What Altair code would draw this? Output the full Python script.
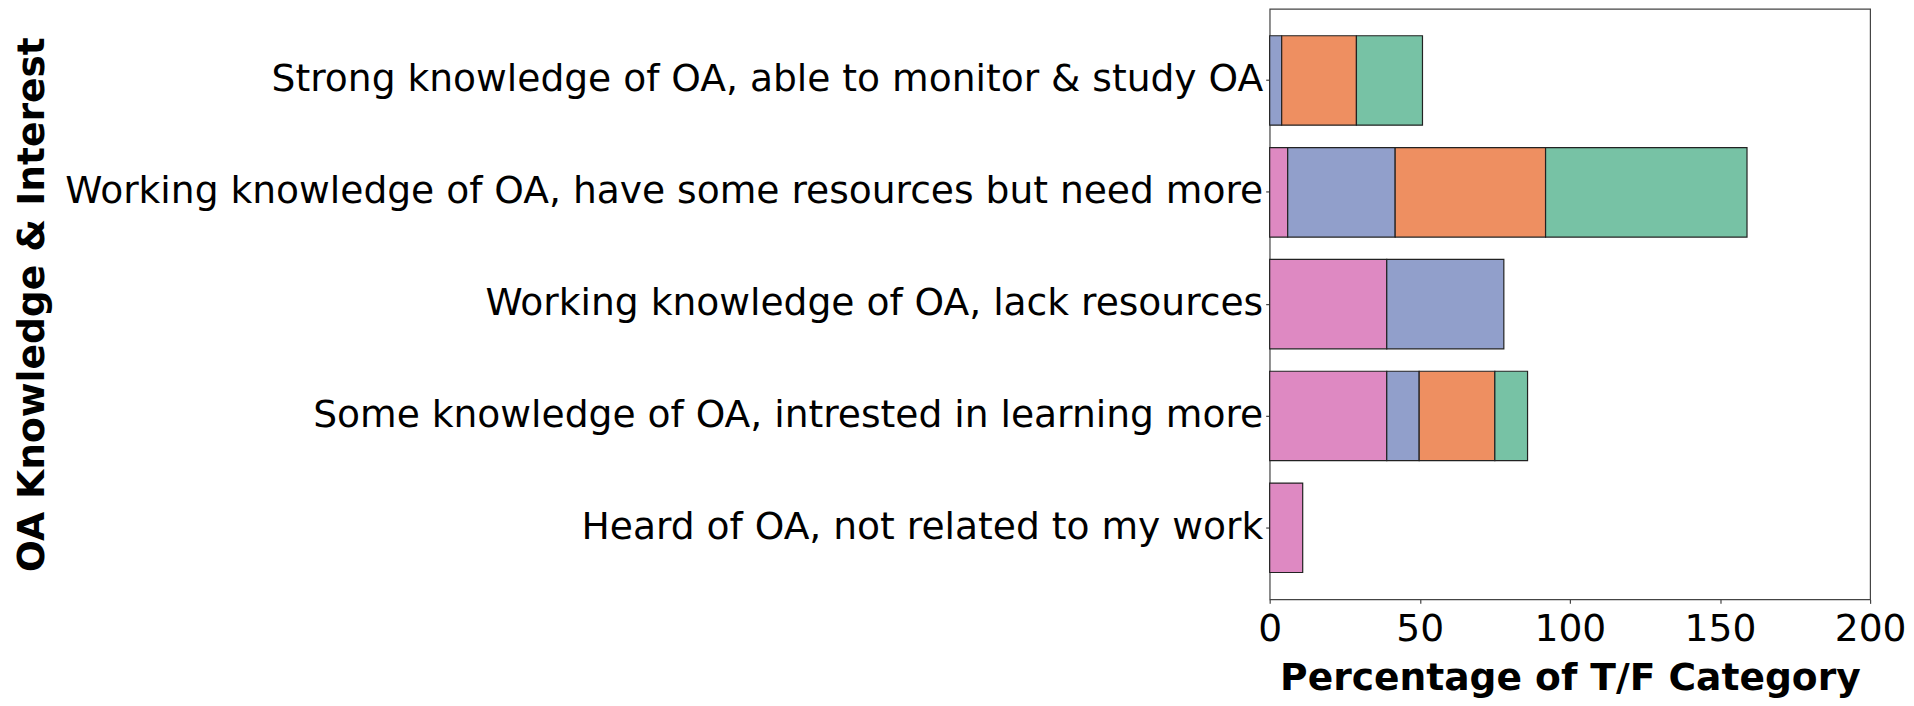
import altair as alt
import pandas as pd

categories = [
    "Strong knowledge of OA, able to monitor & study OA",
    "Working knowledge of OA, have some resources but need more",
    "Working knowledge of OA, lack resources",
    "Some knowledge of OA, intrested in learning more",
    "Heard of OA, not related to my work",
]
series = ["Group 1", "Group 2", "Group 3", "Group 4"]
colors = ["#de89c2", "#919fcb", "#ee8f61", "#77c2a5"]

group1 = [0.0, 6.0, 39.0, 39.0, 11.0]
group2 = [4.0, 35.8, 39.0, 10.8, 0.0]
group3 = [24.9, 50.1, 0.0, 25.2, 0.0]
group4 = [22.0, 67.1, 0.0, 10.9, 0.0]

x_ticks = [0, 50, 100, 150, 200]

rows = []
for si, (name, vals) in enumerate(zip(series, [group1, group2, group3, group4])):
    for cat, v in zip(categories, vals):
        if v > 0:
            rows.append({"category": cat, "series": name, "value": v, "rank": si})
df = pd.DataFrame(rows)

FONT = "DejaVu Sans"
FS = 37.7
H = 592

chart = alt.Chart(df).mark_bar(stroke="#222222", strokeWidth=1.2).encode(
    y=alt.Y(
        "category:N",
        sort=categories,
        scale=alt.Scale(paddingInner=0.2, paddingOuter=0.24),
        axis=alt.Axis(
            title="OA Knowledge & Interest",
            labelFont=FONT, labelFontSize=FS, labelColor="black", labelLimit=3000,
            labelPadding=3, tickSize=4, tickColor="#444444", tickWidth=1.2,
            domain=False, titleFont=FONT, titleFontSize=FS, titleFontWeight="bold",
            titleColor="black", titleAngle=270, titleBaseline="top", titleAlign="center",
            titleX=-1259, titleY=H / 2,
        ),
    ),
    x=alt.X(
        "value:Q",
        stack="zero",
        scale=alt.Scale(domain=[0, 200], nice=False),
        axis=alt.Axis(
            title="Percentage of T/F Category", values=x_ticks, grid=False,
            labelFont=FONT, labelFontSize=FS, labelColor="black", labelFlush=False,
            labelPadding=7, tickSize=4, tickColor="#444444", tickWidth=1.2,
            domain=False, titleFont=FONT, titleFontSize=FS, titleFontWeight="bold",
            titleColor="black", titlePadding=12,
        ),
    ),
    color=alt.Color("series:N", scale=alt.Scale(domain=series, range=colors), legend=None),
    order=alt.Order("rank:Q", sort="ascending"),
).properties(
    width=602,
    height=H,
    autosize=alt.AutoSizeParams(type="none"),
    padding={"left": 1265, "top": 0, "right": 36, "bottom": 102},
).configure(
    background="white",
    view=alt.ViewConfig(stroke="#444444", strokeWidth=1.2),
)

chart.save("out.html", embed_options={"renderer": "svg", "actions": False})
